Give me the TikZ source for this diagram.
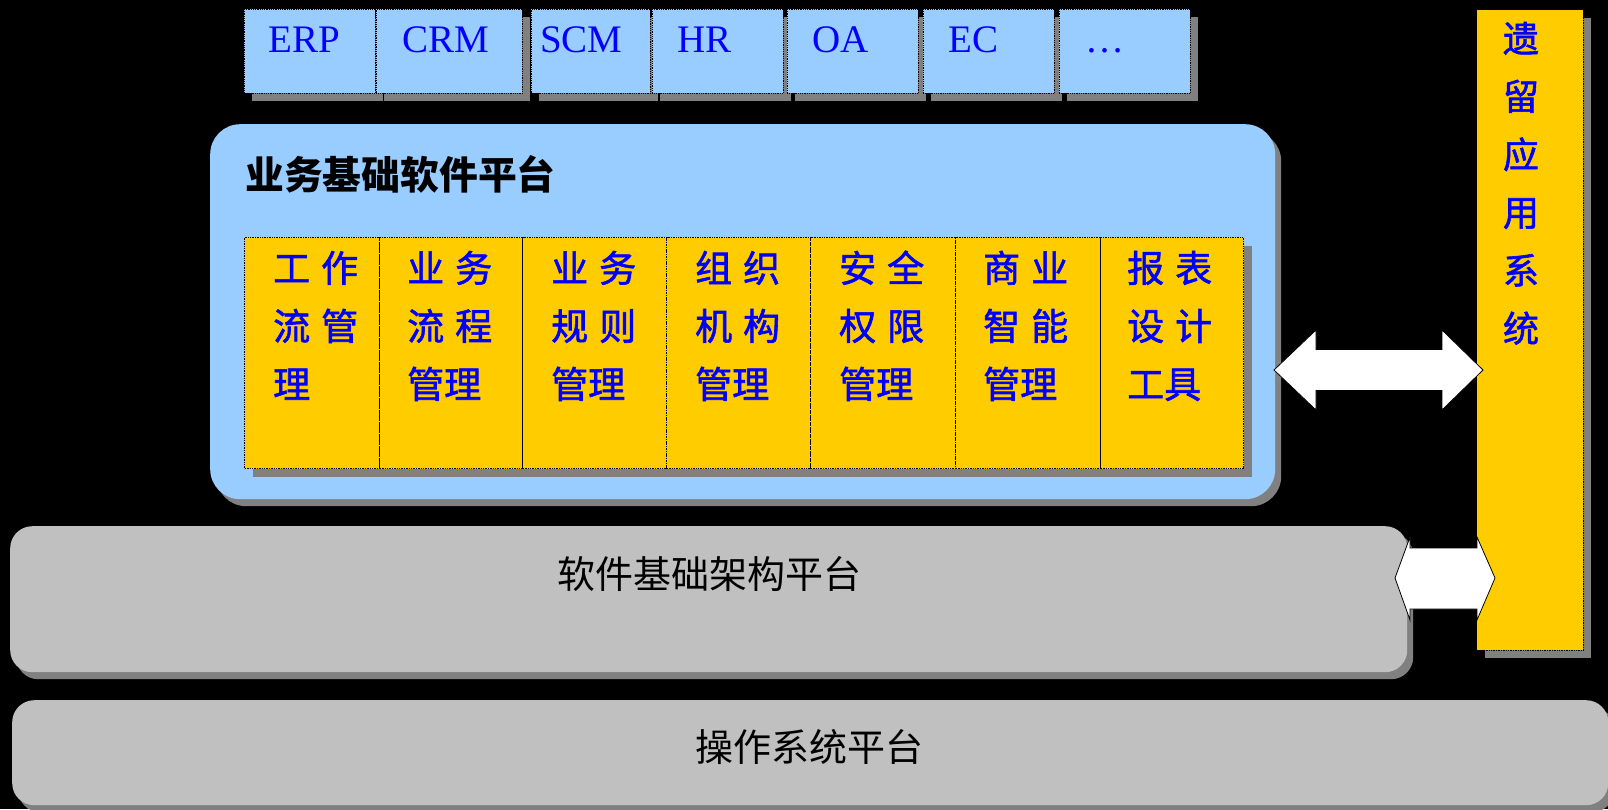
\documentclass[tikz,border=0pt]{standalone}
\usepackage{fontspec}
\setmainfont{Liberation Serif}
\newfontfamily\cjk{Noto Sans CJK SC}
\newfontfamily\cjkblue[FakeBold=1.6]{Noto Sans CJK SC}
\usetikzlibrary{shadows}
\definecolor{pblue}{HTML}{99CCFF}
\definecolor{pyel}{HTML}{FFCC00}
\definecolor{pgrey}{HTML}{C0C0C0}
\definecolor{pshadow}{HTML}{808080}
\definecolor{ptext}{HTML}{0000FF}
\begin{document}
\begin{tikzpicture}[x=1pt,y=-1pt,
  shad/.style={drop shadow={shadow xshift=8pt, shadow yshift=-8pt, fill=pshadow, opacity=1}},
  appbox/.style={shad, rectangle, anchor=north west, inner sep=0, fill=pblue, draw=black, densely dotted, line width=0.8pt},
  modbox/.style={shad, rectangle, anchor=north west, inner sep=0, fill=pyel, draw=black, densely dotted, line width=1.4pt},
  platbox/.style={drop shadow={shadow xshift=6pt, shadow yshift=-7pt, fill=pshadow, opacity=1}, rectangle, anchor=north west, inner sep=0},
  applabel/.style={anchor=base west, inner sep=0, text=ptext, font=\fontsize{39}{39}\selectfont},
  modlabel/.style={anchor=base west, inner sep=0, text=ptext, font=\cjkblue\fontsize{37}{37}\selectfont},
  colchar/.style={anchor=base, inner sep=0, text=ptext, font=\cjkblue\fontsize{36}{36}\selectfont},
  plattext/.style={inner sep=0, text=black, font=\cjk\fontsize{38}{38}\selectfont},
  blockarrow/.style={fill=white, draw=black, line width=0.8pt, line join=miter}
]
\fill[black] (0,0) rectangle (1608,809);
\useasboundingbox (0,0) rectangle (1608,809);

% top application boxes
\node[appbox, minimum width=131pt, minimum height=84pt] (erp) at (244,9) {};
\node[appbox, minimum width=146pt, minimum height=84pt] (crm) at (376,9) {};
\node[appbox, minimum width=119pt, minimum height=84pt] (scm) at (531,9) {};
\node[appbox, minimum width=131pt, minimum height=84pt] (hr) at (652,9) {};
\node[appbox, minimum width=131pt, minimum height=84pt] (oa) at (787,9) {};
\node[appbox, minimum width=131pt, minimum height=84pt] (ec) at (923,9) {};
\node[appbox, minimum width=131pt, minimum height=84pt] (etc) at (1059,9) {};
\node[applabel] (erpT) at (268,52) {ERP};
\node[applabel] (crmT) at (402,52) {CRM};
\node[applabel] (scmT) at (540,52) {SCM};
\node[applabel] (hrT) at (677,52) {HR};
\node[applabel] (oaT) at (812,52) {OA};
\node[applabel] (ecT) at (948,52) {EC};
\node[applabel] (etcT) at (1085,52) {…};

% business platform
\node[platbox, fill=pblue, rounded corners=30pt, minimum width=1065pt, minimum height=375pt] (biz) at (210,124) {};
\node[plattext, anchor=base west, font=\cjk\bfseries\fontsize{38.8}{38.8}\selectfont] (bizT) at (245,189) {业务基础软件平台};

% module boxes
\node[modbox, minimum width=135pt, minimum height=231pt] (m1) at (244,237) {};
\node[modbox, minimum width=143pt, minimum height=231pt] (m2) at (379,237) {};
\node[modbox, minimum width=144pt, minimum height=231pt] (m3) at (522,237) {};
\node[modbox, minimum width=144pt, minimum height=231pt] (m4) at (666,237) {};
\node[modbox, minimum width=145pt, minimum height=231pt] (m5) at (810,237) {};
\node[modbox, minimum width=145pt, minimum height=231pt] (m6) at (955,237) {};
\node[modbox, minimum width=143pt, minimum height=231pt] (m7) at (1100,237) {};

\node[modlabel] (m1a) at (273,282) {工\hspace{11pt}作};
\node[modlabel] (m1b) at (273,340) {流\hspace{11pt}管};
\node[modlabel] (m1c) at (273,398) {理};
\node[modlabel] (m2a) at (407,282) {业\hspace{11pt}务};
\node[modlabel] (m2b) at (407,340) {流\hspace{11pt}程};
\node[modlabel] (m2c) at (407,398) {管理};
\node[modlabel] (m3a) at (551,282) {业\hspace{11pt}务};
\node[modlabel] (m3b) at (551,340) {规\hspace{11pt}则};
\node[modlabel] (m3c) at (551,398) {管理};
\node[modlabel] (m4a) at (695,282) {组\hspace{11pt}织};
\node[modlabel] (m4b) at (695,340) {机\hspace{11pt}构};
\node[modlabel] (m4c) at (695,398) {管理};
\node[modlabel] (m5a) at (839,282) {安\hspace{11pt}全};
\node[modlabel] (m5b) at (839,340) {权\hspace{11pt}限};
\node[modlabel] (m5c) at (839,398) {管理};
\node[modlabel] (m6a) at (983,282) {商\hspace{11pt}业};
\node[modlabel] (m6b) at (983,340) {智\hspace{11pt}能};
\node[modlabel] (m6c) at (983,398) {管理};
\node[modlabel] (m7a) at (1127,282) {报\hspace{11pt}表};
\node[modlabel] (m7b) at (1127,340) {设\hspace{11pt}计};
\node[modlabel] (m7c) at (1127,398) {工具};

% software infrastructure platform
\node[platbox, fill=pgrey, rounded corners=22pt, minimum width=1397pt, minimum height=146pt] (infra) at (10,526) {};
\node[plattext, anchor=base] (infraT) at (709,588) {软件基础架构平台};

% operating system platform
\node[platbox, fill=pgrey, rounded corners=22pt, minimum width=1596pt, minimum height=105pt] (os) at (12,700) {};
\node[plattext, anchor=base] (osT) at (809,761) {操作系统平台};

% legacy column
\node[modbox, draw=none, minimum width=106pt, minimum height=640pt] (legacy) at (1476,9) {};
\draw[black, densely dotted, line width=0.7pt] (legacy.north west) rectangle (legacy.south east);
\foreach \c [count=\i] in {遗,留,应,用,系,统}
  \node[colchar] (leg\i) at (1521,{52+58*(\i-1)}) {\c};

% block arrows
\coordinate (a1l) at (1274,370);
\coordinate (a1r) at (1483,370);
\draw[blockarrow] (a1l) -- (1316,330) -- (1316,349.5) -- (1442,349.5) -- (1442,330) -- (a1r)
  -- (1442,410) -- (1442,390.5) -- (1316,390.5) -- (1316,410) -- cycle;
\coordinate (a2l) at (1395,578);
\coordinate (a2r) at (1495,578);
\draw[blockarrow] (a2l) -- (1410,537) -- (1410,548) -- (1477,548) -- (1477,537) -- (a2r)
  -- (1477,620) -- (1477,609) -- (1410,609) -- (1410,620) -- cycle;
\end{tikzpicture}
\end{document}
